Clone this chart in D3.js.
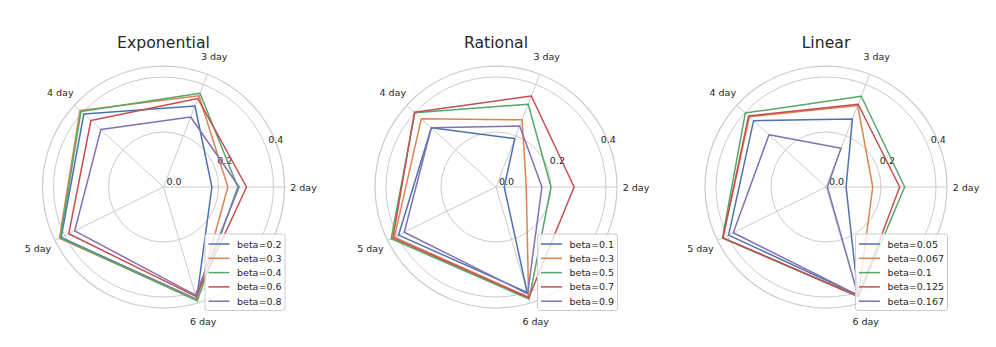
<!DOCTYPE html>
<html>
<head>
<meta charset="utf-8">
<script src="https://cdn.jsdelivr.net/npm/d3@7"></script>
<style>
  body { margin: 0; background: #fff; }
  svg { display: block; font-family: "DejaVu Sans", sans-serif; }
</style>
</head>
<body>
<svg id="chart" width="996" height="347"></svg>
<script>
const dayLabels = ["2 day", "3 day", "4 day", "5 day", "6 day"];
const dayAngles = [0, 1.2, 2.4, 3.6, 5.0];
const radialTicks = [0.0, 0.2, 0.4];
const rMax = 0.44;

const expBetas = ["beta=0.2", "beta=0.3", "beta=0.4", "beta=0.6", "beta=0.8"];
const expValues = [
  [0.176, 0.316, 0.393, 0.415, 0.425],
  [0.234, 0.356, 0.412, 0.422, 0.428],
  [0.270, 0.366, 0.407, 0.418, 0.432],
  [0.302, 0.345, 0.358, 0.384, 0.415],
  [0.275, 0.273, 0.309, 0.360, 0.410]
];

const ratBetas = ["beta=0.1", "beta=0.3", "beta=0.5", "beta=0.7", "beta=0.9"];
const ratValues = [
  [0.030, 0.189, 0.319, 0.395, 0.400],
  [0.110, 0.262, 0.368, 0.412, 0.418],
  [0.200, 0.323, 0.400, 0.425, 0.425],
  [0.284, 0.355, 0.402, 0.418, 0.420],
  [0.167, 0.238, 0.319, 0.372, 0.405]
];

const linBetas = ["beta=0.05", "beta=0.067", "beta=0.1", "beta=0.125", "beta=0.167"];
const linValues = [
  [0.073, 0.265, 0.357, 0.395, 0.410],
  [0.170, 0.318, 0.378, 0.418, 0.415],
  [0.286, 0.354, 0.398, 0.420, 0.415],
  [0.268, 0.323, 0.382, 0.418, 0.415],
  [0.005, 0.151, 0.281, 0.376, 0.410]
];

const palette = ["#4c72b0", "#dd8452", "#55a868", "#c44e52", "#8172b3"];

const panels = [
  { title: "Exponential", betas: expBetas, values: expValues, cx: 163.5 },
  { title: "Rational", betas: ratBetas, values: ratValues, cx: 496 },
  { title: "Linear", betas: linBetas, values: linValues, cx: 826 }
];

const CY = 187;
const R = 121;
const GRID = "#cccccc";
const INK = "#262626";

const svg = d3.select("#chart");
const r = d3.scaleLinear().domain([0, rMax]).range([0, R]);

const px = (a, v) => r(v) * Math.cos(a);
const py = (a, v) => -r(v) * Math.sin(a);

panels.forEach(p => {
  const g = svg.append("g").attr("transform", `translate(${p.cx},${CY})`);

  // grid circles
  g.selectAll(".ring")
    .data(radialTicks.filter(t => t > 0))
    .enter().append("circle")
    .attr("r", d => r(d))
    .attr("fill", "none")
    .attr("stroke", GRID)
    .attr("stroke-width", 1);

  // spokes
  g.selectAll(".spoke")
    .data(dayAngles)
    .enter().append("line")
    .attr("x1", 0).attr("y1", 0)
    .attr("x2", d => px(d, rMax))
    .attr("y2", d => py(d, rMax))
    .attr("stroke", GRID)
    .attr("stroke-width", 1);

  // outer spine
  g.append("circle")
    .attr("r", r(rMax))
    .attr("fill", "none")
    .attr("stroke", GRID)
    .attr("stroke-width", 1.25);

  // radial tick labels at 22.5 deg
  const la = 22.5 * Math.PI / 180;
  g.selectAll(".rlab")
    .data(radialTicks)
    .enter().append("text")
    .attr("x", d => px(la, d) + 3)
    .attr("y", d => py(la, d) - 2)
    .attr("font-size", "9.5px")
    .attr("fill", INK)
    .text(d => d.toFixed(1));

  // angle labels
  g.selectAll(".tlab")
    .data(dayLabels)
    .enter().append("text")
    .attr("x", (d, i) => (R + 19) * Math.cos(dayAngles[i]))
    .attr("y", (d, i) => -(R + 19) * Math.sin(dayAngles[i]))
    .attr("text-anchor", "middle")
    .attr("dominant-baseline", "central")
    .attr("font-size", "9.5px")
    .attr("fill", INK)
    .text(d => d);

  // series polygons
  const line = d3.lineRadial()
    .angle(d => Math.PI / 2 - d.a)
    .radius(d => r(d.v))
    .curve(d3.curveLinearClosed);

  p.values.forEach((vals, si) => {
    const pts = vals.map((v, i) => ({ a: dayAngles[i], v }));
    g.append("path")
      .attr("d", line(pts))
      .attr("fill", "none")
      .attr("stroke", palette[si])
      .attr("stroke-width", 1.5)
      .attr("stroke-linejoin", "round");
  });

  // title
  g.append("text")
    .attr("x", 0)
    .attr("y", -139.5)
    .attr("text-anchor", "middle")
    .attr("font-size", "15.7px")
    .attr("fill", INK)
    .text(p.title);

  // legend
  const lg = g.append("g");
  const box = lg.append("rect")
    .attr("fill", "#fff")
    .attr("fill-opacity", 0.8)
    .attr("stroke", GRID)
    .attr("stroke-width", 1)
    .attr("rx", 2.5);
  const rowH = 14.3;
  const texts = [];
  p.betas.forEach((b, i) => {
    const y = 10 + i * rowH;
    lg.append("line")
      .attr("x1", 3.5).attr("x2", 24.5)
      .attr("y1", y).attr("y2", y)
      .attr("stroke", palette[i])
      .attr("stroke-width", 1.5);
    texts.push(lg.append("text")
      .attr("x", 32)
      .attr("y", y)
      .attr("dominant-baseline", "central")
      .attr("font-size", "9.5px")
      .attr("fill", INK)
      .text(b));
  });
  const tw = d3.max(texts, t => t.node().getComputedTextLength());
  const w = 32 + tw + 3.5;
  const h = 76.5;
  box.attr("width", w).attr("height", h);
  lg.attr("transform", `translate(${R + 0.5 - w},${123.5 - h})`);
});
</script>
</body>
</html>
